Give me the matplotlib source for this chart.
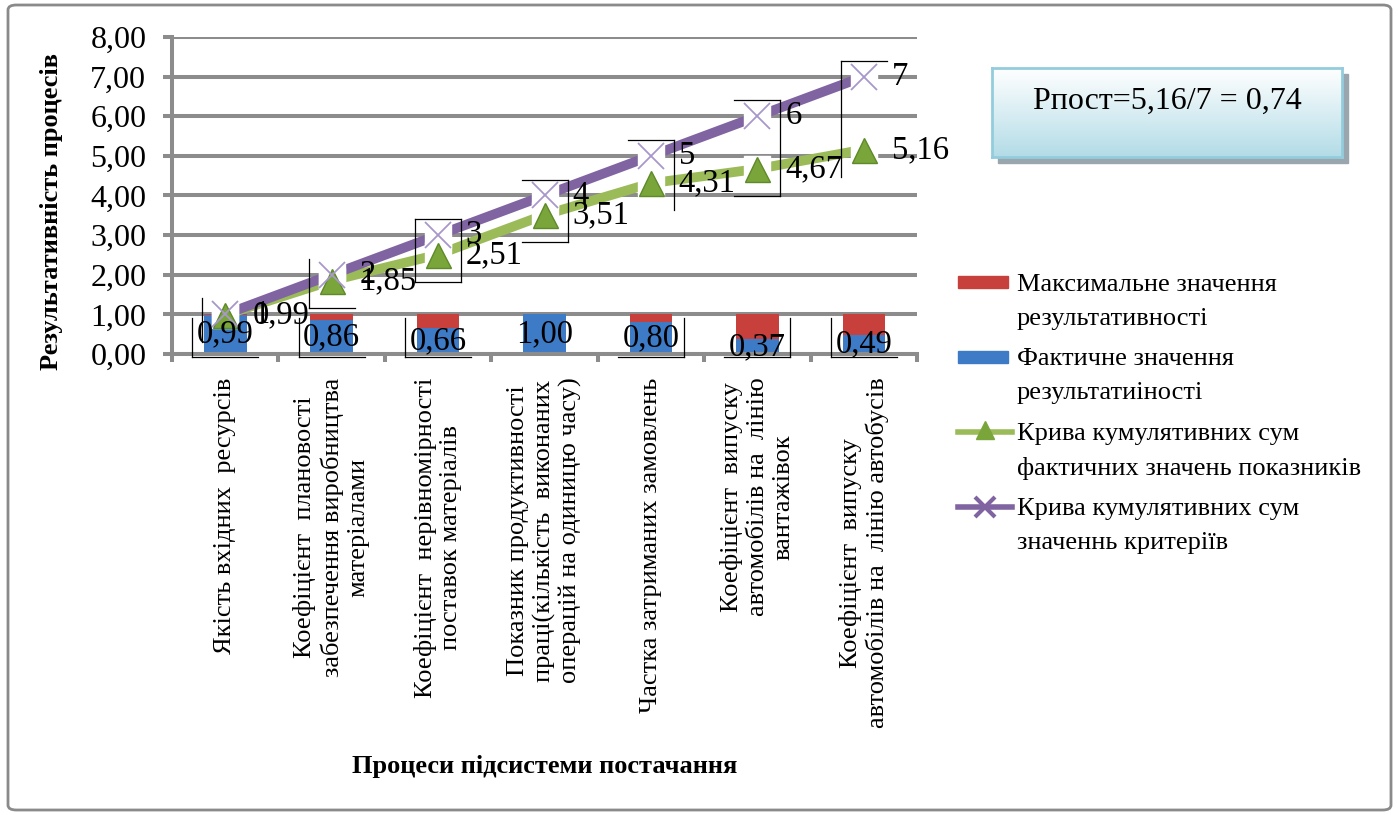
import numpy as np
import matplotlib
import matplotlib.pyplot as plt
from matplotlib.lines import Line2D
from matplotlib.patches import Rectangle, FancyBboxPatch
from matplotlib.transforms import IdentityTransform

plt.rcParams['font.family'] = ['Liberation Serif', 'DejaVu Serif']

# ---- data ----
categories = [
    'Якість вхідних  ресурсів',
    'Коефіцієнт  плановості\nзабезпечення виробництва\nматеріалами',
    'Коефіцієнт  нерівномірності\nпоставок матеріалів',
    'Показник продуктивності\nпраці(кількість  виконаних\nоперацій на одиницю часу)',
    'Частка затриманих замовлень',
    'Коефіцієнт  випуску\nавтомобілів на  лінію\nвантажівок',
    'Коефіцієнт  випуску\nавтомобілів на  лінію автобусів',
]
actual = [0.99, 0.86, 0.66, 1.00, 0.80, 0.37, 0.49]
max_value = [1.0, 1.0, 1.0, 1.0, 1.0, 1.0, 1.0]
cum_actual = [0.99, 1.85, 2.51, 3.51, 4.31, 4.67, 5.16]
cum_criteria = [1, 2, 3, 4, 5, 6, 7]
y_ticks = [0, 1, 2, 3, 4, 5, 6, 7, 8]

legend_labels = [
    ['Максимальне значення', 'результативності'],
    ['Фактичне значення', 'результатиіності'],
    ['Крива кумулятивних сум', 'фактичних значень показників'],
    ['Крива кумулятивних сум', 'значеннь критеріїв'],
]
note_text = 'Рпост=5,16/7 = 0,74'

RED = '#C8403C'
BLUE = '#3E7BC7'
GREEN = '#9BBB59'
PURPLE = '#8064A2'
GRID = '#8C8C8C'

W, H = 1398, 815
fig = plt.figure(figsize=(W / 100, H / 100), dpi=100)


def fx(px):
    return px / W


def fy(py):
    return 1 - py / H


# outer frame
fig.add_artist(FancyBboxPatch((fx(8), fy(810)), fx(1391) - fx(8), fy(5) - fy(810),
                              boxstyle='round,pad=0,rounding_size=0.006',
                              transform=fig.transFigure, fc='none', ec='#8A8A8A', lw=2,
                              zorder=-1))

ax = fig.add_axes([fx(172), fy(354), fx(917) - fx(172), fy(37) - fy(354)])
x = np.arange(len(categories))

ax.set_xlim(-0.5, len(categories) - 0.5)
ax.set_ylim(0, 8)
ax.set_yticks(y_ticks)
ax.set_yticklabels([f'{v:.2f}'.replace('.', ',') for v in y_ticks], fontsize=23)
ax.yaxis.grid(True, color=GRID, lw=2.9, zorder=0)
ax.set_axisbelow(True)
for s in ['top', 'right']:
    ax.spines[s].set_visible(False)
for s in ['left', 'bottom']:
    ax.spines[s].set_color(GRID)
    ax.spines[s].set_linewidth(2.9)
ax.tick_params(axis='y', length=6.5, width=2.9, color=GRID, pad=12)
ax.set_xticks(x)
ax.set_xticklabels(categories, rotation=90, fontsize=19, va='top', ha='center',
                   multialignment='center', linespacing=1.22)
ax.tick_params(axis='x', length=0, pad=17)
ax.set_xticks(np.arange(-0.5, len(categories)), minor=True)
ax.tick_params(axis='x', which='minor', length=6, width=2.9, color=GRID)

# stacked bars
rest = [m - a for m, a in zip(max_value, actual)]
ax.bar(x, actual, width=0.4, color=BLUE, zorder=2)
ax.bar(x, rest, width=0.4, bottom=actual, color=RED, zorder=2)

# cumulative lines
ax.plot(x, cum_actual, color=GREEN, lw=7, zorder=3, solid_capstyle='butt')
ax.plot(x, cum_criteria, color=PURPLE, lw=7, zorder=3, solid_capstyle='butt')
ax.plot(x, cum_actual, 's', ms=19, color='white', zorder=4)
ax.plot(x, cum_criteria, 's', ms=19, color='white', zorder=4)
ax.plot(x, cum_actual, '^', ms=18, color='#7AA53A', mec='#5E8A28', zorder=5)
ax.plot(x, cum_criteria, 'x', ms=19, mew=1.3, color='#A897CB', zorder=5)

# data labels
for xi, v in zip(x, cum_criteria):
    ax.annotate(str(v), (xi, v), xytext=(20, 0), textcoords='offset points',
                fontsize=23.5, va='center', ha='left', zorder=6)
for xi, v in zip(x, cum_actual):
    ax.annotate(f'{v:.2f}'.replace('.', ','), (xi, v), xytext=(20, 0),
                textcoords='offset points', fontsize=23.5, va='center', ha='left', zorder=6)
for xi, v in zip(x, actual):
    ax.text(xi, v / 2, f'{v:.2f}'.replace('.', ','), fontsize=23.5, va='center',
            ha='center', zorder=6)

# Excel style label frames (partial boxes)
fig.canvas.draw()
to_px = ax.transData.transform
box_sides = ['l', 'lb', 'tlrb', 'trb', 'tr', 'trb', 'tl']
bar_sides = ['lb', 'lb', 'lb', '', 'rb', 'rb', 'lb']


def frame(x0, x1, y0, y1, sides):
    segs = {'t': ([x0, x1], [y1, y1]), 'b': ([x0, x1], [y0, y0]),
            'l': ([x0, x0], [y0, y1]), 'r': ([x1, x1], [y0, y1])}
    for s in sides:
        xs, ys = segs[s]
        fig.add_artist(Line2D(xs, ys, transform=IdentityTransform(), color='black', lw=0.9,
                              zorder=7))


for i in range(len(categories)):
    cx, top = to_px((x[i], cum_criteria[i]))
    _, bot = to_px((x[i], cum_actual[i]))
    frame(cx - 23, cx + 23, bot - 27, top + 16, box_sides[i])
    _, b0 = to_px((x[i], 0))
    _, b1 = to_px((x[i], 1))
    frame(cx - 33, cx + 33, b0 - 3, b1 - 4, bar_sides[i])

# axis titles
fig.text(fx(52), fy(212), 'Результативність процесів', rotation=90, fontsize=19,
         fontweight='bold', ha='center', va='center')
fig.text(fx(545), fy(767), 'Процеси підсистеми постачання', fontsize=19,
         fontweight='bold', ha='center', va='center')

# legend drawn by hand (handle aligned with first text line)
leg_y = [283, 357, 432, 507]
fig.add_artist(Rectangle((fx(958), fy(288)), fx(1008) - fx(958), fy(276) - fy(288),
                         transform=fig.transFigure, color=RED))
fig.add_artist(Rectangle((fx(958), fy(363)), fx(1008) - fx(958), fy(351) - fy(363),
                         transform=fig.transFigure, color=BLUE))
fig.add_artist(Line2D([fx(958), fx(1012)], [fy(432), fy(432)], transform=fig.transFigure,
                      color=GREEN, lw=4))
fig.add_artist(Line2D([fx(985)], [fy(430)], transform=fig.transFigure, marker='^',
                      ms=13, color='#7AA53A'))
fig.add_artist(Line2D([fx(958), fx(1012)], [fy(507), fy(507)], transform=fig.transFigure,
                      color=PURPLE, lw=4))
fig.add_artist(Line2D([fx(985)], [fy(507)], transform=fig.transFigure, marker='x',
                      ms=15, mew=3, color=PURPLE))
for y0, lines in zip(leg_y, legend_labels):
    for k, line in enumerate(lines):
        fig.text(fx(1017), fy(y0 + 2 + k * 34), line, fontsize=19, ha='left', va='center')

# text box with gradient and shadow
fig.add_artist(Rectangle((fx(998), fy(163)), fx(1342) - fx(992), fy(68) - fy(157),
                         transform=fig.transFigure, color='#9AA6AE', zorder=-1))
bax = fig.add_axes([fx(992), fy(157), fx(1342) - fx(992), fy(68) - fy(157)])
grad = np.linspace(0, 1, 100).reshape(-1, 1)
cmap = matplotlib.colors.LinearSegmentedColormap.from_list('g', ['#FFFFFF', '#B3DCE7'])
bax.imshow(grad, aspect='auto', cmap=cmap, extent=[0, 1, 0, 1], origin='upper')
bax.set_xticks([])
bax.set_yticks([])
for s in bax.spines.values():
    s.set_color('#93CDDD')
    s.set_linewidth(2)
bax.text(0.5, 0.62, note_text, fontsize=23, ha='center', va='center', transform=bax.transAxes)

fig.savefig('out.png', dpi=100)
